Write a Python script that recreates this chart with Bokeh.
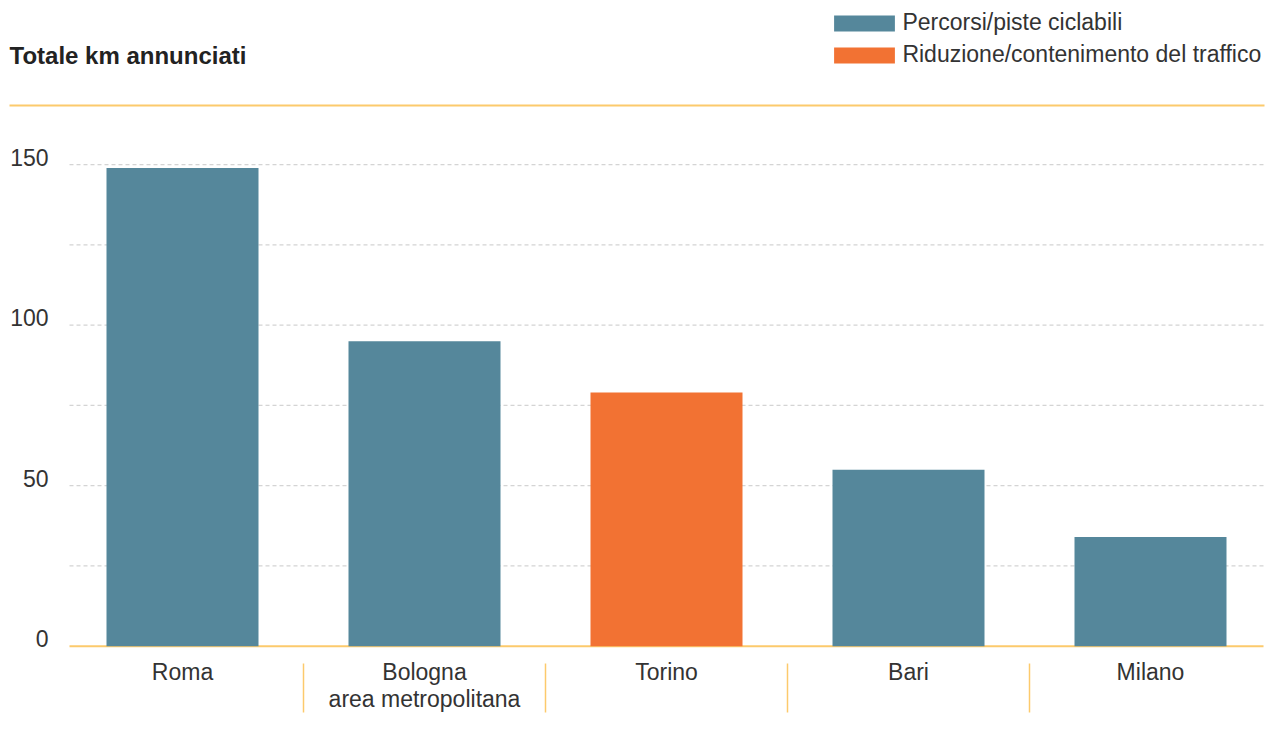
from bokeh.plotting import figure
from bokeh.models import ColumnDataSource, Range1d, Legend, LegendItem, Label
from bokeh.core.properties import value
from bokeh.embed import file_html
from bokeh.resources import INLINE

# ---- data ----
categories = ["Roma", "Bologna\narea metropolitana", "Torino", "Bari", "Milano"]
km_values = [149, 95, 79, 55, 34]
bar_type = ["Percorsi/piste ciclabili", "Percorsi/piste ciclabili",
            "Riduzione/contenimento del traffico",
            "Percorsi/piste ciclabili", "Percorsi/piste ciclabili"]
series_names = ["Percorsi/piste ciclabili", "Riduzione/contenimento del traffico"]
series_colors = ["#55879b", "#f27233"]
y_ticks = [0, 50, 100, 150]
grid_values = [25, 50, 75, 100, 125, 150]
title_text = "Totale km annunciati"

# ---- layout (pixels) ----
W, H = 1271, 749
CAT_PX = 242.0          # pixels per category
X0_PX = 182.0           # canvas x of first category centre
Y0_PX = 645.7           # canvas y of value 0
PX_PER_UNIT = 3.21
FONT = "Liberation Sans"
TXT = "#333333"
GOLD = "#fcca6c"
FS = "23px"

def xd(px):
    return (px - X0_PX) / CAT_PX

def yd(py):
    return (Y0_PX - py) / PX_PER_UNIT

p = figure(width=W, height=H, output_backend="svg", toolbar_location=None,
           x_range=Range1d(xd(0), xd(W)), y_range=Range1d(yd(H), yd(0)),
           min_border=0, outline_line_color=None)
p.axis.visible = False
p.grid.visible = False
p.background_fill_color = "white"

# grid lines
p.segment(x0=[xd(69)] * len(grid_values), x1=[xd(1263)] * len(grid_values),
          y0=grid_values, y1=grid_values, line_color="#d4d4d4",
          line_width=1.3, line_dash="4 3")
# baseline
p.segment(x0=[xd(69)], x1=[xd(1263)], y0=[0], y1=[0], line_color=GOLD, line_width=2)
# top rule
p.segment(x0=[xd(9)], x1=[xd(1264)], y0=[yd(105)], y1=[yd(105)], line_color=GOLD, line_width=2)

# bars
renderers = []
for name, col in zip(series_names, series_colors):
    idx = [i for i, t in enumerate(bar_type) if t == name]
    src = ColumnDataSource(dict(x=idx, top=[km_values[i] for i in idx]))
    r = p.vbar(x="x", top="top", bottom=0, width=152 / CAT_PX, source=src,
               fill_color=col, line_color=None)
    renderers.append(r)

# y tick labels
p.text(x=[xd(0)] * len(y_ticks), y=y_ticks, text=[str(t) for t in y_ticks],
       x_offset=48, y_offset=-7.5, text_align="right", text_baseline="alphabetic",
       text_font=value(FONT), text_font_size=FS, text_color=TXT)

# x category labels (split lines)
line1 = [c.split("\n")[0] for c in categories]
line2 = [c.split("\n")[1] if "\n" in c else "" for c in categories]
xs = list(range(len(categories)))
p.text(x=xs, y=[0] * len(xs), text=line1, y_offset=25.5, text_align="center",
       text_baseline="alphabetic", text_font=value(FONT), text_font_size=FS,
       text_color=TXT)
p.text(x=xs, y=[0] * len(xs), text=line2, y_offset=52.5, text_align="center",
       text_baseline="alphabetic", text_font=value(FONT), text_font_size=FS,
       text_color=TXT)

# separators between categories
seps = [i + 0.5 for i in range(len(categories) - 1)]
p.segment(x0=seps, x1=seps, y0=[yd(663)] * len(seps), y1=[yd(712)] * len(seps),
          line_color=GOLD, line_width=1.5)

# title
p.add_layout(Label(x=9, y=H - 54.5, x_units="screen", y_units="screen", text=title_text,
                   text_font=FONT, text_font_size="24px", text_font_style="bold",
                   text_color="#222222", text_baseline="alphabetic"))

# legend
legend = Legend(items=[LegendItem(label=n, renderers=[r]) for n, r in zip(series_names, renderers)],
                location=(826.4, H - 68), orientation="vertical",
                glyph_width=76, glyph_height=20, label_standoff=0, spacing=5,
                padding=0, margin=0, border_line_color=None,
                background_fill_alpha=0, label_text_font=FONT,
                label_text_font_size=FS, label_text_color=TXT)
p.add_layout(legend)

open("out.html", "w").write(file_html(p, INLINE))
